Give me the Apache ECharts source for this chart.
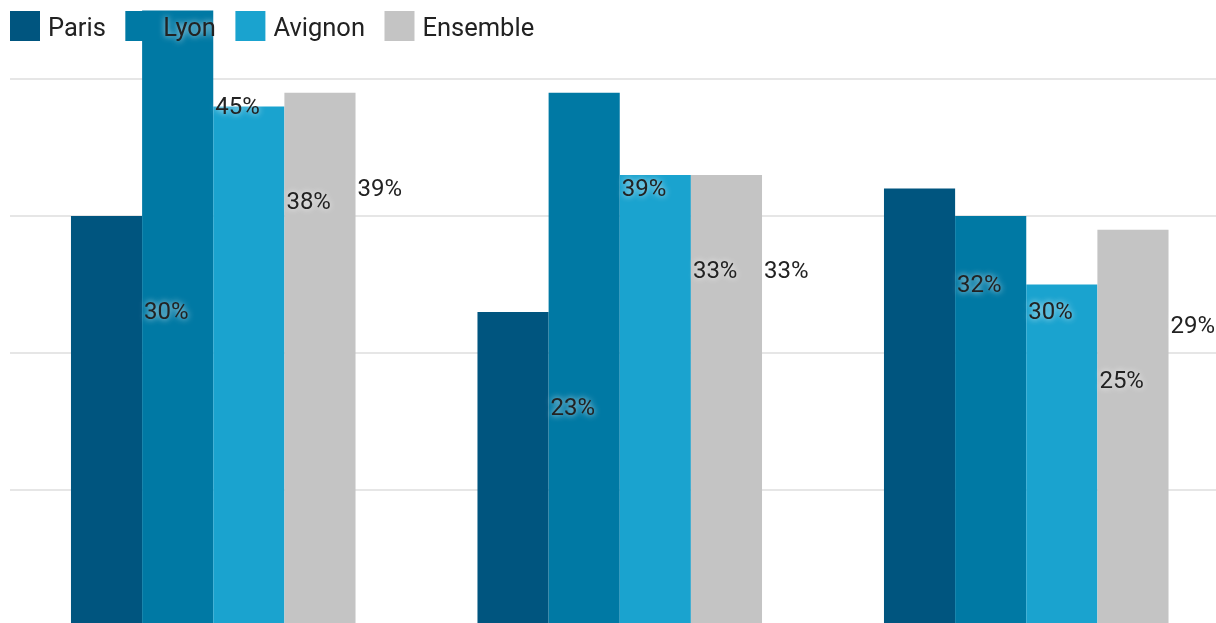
<!DOCTYPE html>
<html>
<head>
<meta charset="utf-8">
<script src="https://cdn.jsdelivr.net/npm/echarts@6/dist/echarts.min.js"></script>
<style>html,body{margin:0;padding:0;background:#fff}#c{width:1216px;height:623px}</style>
</head>
<body>
<div id="c"></div>
<script>
const categories = ['A', 'B', 'C'];
const seriesNames = ['Paris', 'Lyon', 'Avignon', 'Ensemble'];
const paris = [30, 23, 32];
const lyon = [45, 39, 30];
const avignon = [38, 33, 25];
const ensemble = [39, 33, 29];
const colors = ['#00557f', '#0079a4', '#1aa3cf', '#c4c4c4'];
const values = [paris, lyon, avignon, ensemble];

const chart = echarts.init(document.getElementById('c'));
chart.setOption({
  animation: false,
  color: colors,
  textStyle: { fontFamily: 'Roboto' },
  legend: {
    left: 10, top: 11, padding: 0,
    itemWidth: 30, itemHeight: 30, itemGap: 19.5,
    icon: 'rect',
    formatter: '{t|{name}}',
    textStyle: { fontSize: 25, color: '#222', fontFamily: 'Roboto',
      rich: { t: { fontSize: 25.5, color: '#222', fontFamily: 'Roboto', padding: [8, 0, 0, 0],
        textShadowColor: 'rgba(255,255,255,0.85)', textShadowBlur: 6 } },
      padding: [0, 0, 0, 3] },
    data: seriesNames
  },
  grid: { left: 10, width: 1219.5, top: -58, height: 685, outerBoundsMode: 'none', containLabel: false },
  xAxis: {
    type: 'category', data: categories,
    axisLine: { show: false }, axisTick: { show: false }, axisLabel: { show: false }
  },
  yAxis: {
    type: 'value', min: 0, max: 50, interval: 10,
    axisLabel: { show: false }, axisLine: { show: false }, axisTick: { show: false },
    splitLine: { lineStyle: { color: '#e6e6e6', width: 2 } }
  },
  series: seriesNames.map((n, i) => ({
    name: n, type: 'bar', data: values[i],
    barGap: '0%', barCategoryGap: '30%',
    label: {
      show: true, position: ['100%', 97], offset: [2, 0], align: 'left', verticalAlign: 'middle',
      formatter: '{c}%', fontSize: 24, color: '#222', fontFamily: 'Roboto',
      textShadowColor: 'rgba(255,255,255,0.9)', textShadowBlur: 6
    }
  }))
});
</script>
</body>
</html>
